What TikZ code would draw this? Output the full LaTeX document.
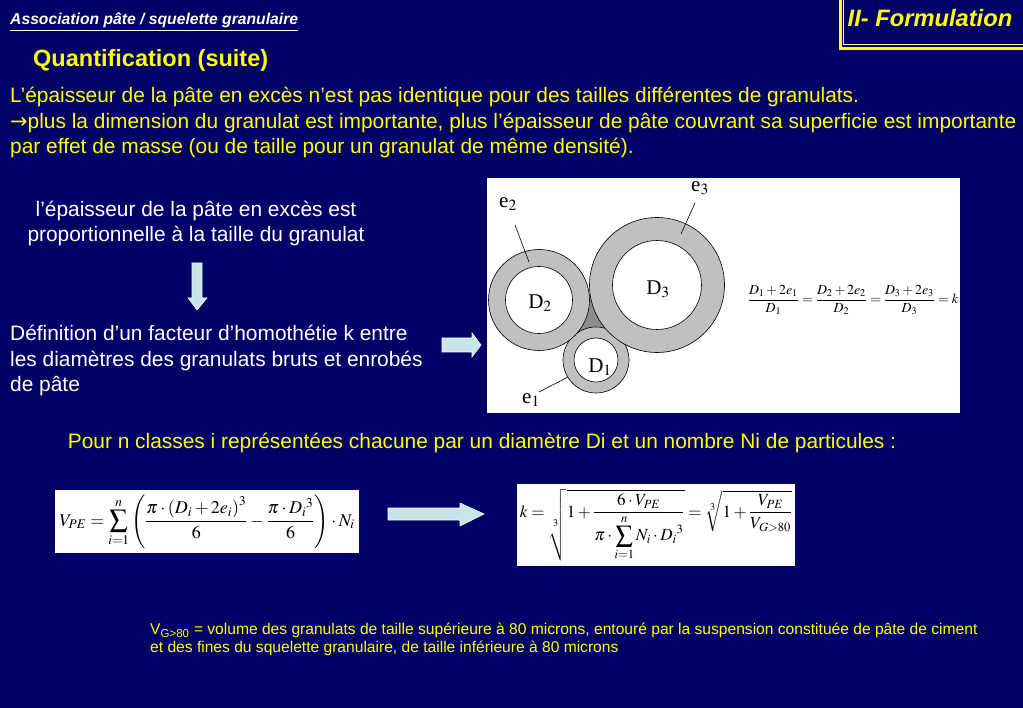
\documentclass[tikz,border=0pt]{standalone}
\usepackage{mathptmx}
\usepackage{fontspec}
\setmainfont{Liberation Serif}
\setsansfont{Liberation Sans}
\newfontfamily\arrowfont{DejaVu Sans}
\usetikzlibrary{calc}
\definecolor{slide}{HTML}{000066}
\definecolor{heading}{HTML}{FFFF00}
\definecolor{ring}{HTML}{C0C0C0}
\definecolor{gap}{HTML}{8C8C8C}
\definecolor{pointer}{HTML}{C8E6EA}
\tikzset{
  frame/.style={draw=heading, line width=3pt},
  framethin/.style={draw=heading!45!white, line width=0.8pt},
  sectiontitle/.style={font=\sffamily\bfseries\itshape\fontsize{23.7}{26}\selectfont, text=heading, inner sep=0pt},
  subject/.style={font=\sffamily\bfseries\itshape\fontsize{15.7}{18}\selectfont, text=white, inner sep=0pt, anchor=west},
  heading/.style={font=\sffamily\bfseries\fontsize{23.5}{26}\selectfont, text=heading, inner sep=0pt, anchor=west},
  bodytext/.style={font=\sffamily\fontsize{20.9}{25.5}\selectfont, text=heading, align=left, inner sep=0pt},
  whitetext/.style={font=\sffamily\fontsize{20.9}{25.5}\selectfont, text=white, inner sep=0pt},
  note/.style={font=\sffamily\fontsize{15.6}{18}\selectfont, text=heading, align=left, inner sep=0pt},
  blockarrow/.style={fill=pointer, draw=white!80!pointer, line width=0.6pt},
  panel/.style={fill=white, draw=none, inner sep=0pt},
  formulabox/.style={fill=white, draw=none, inner sep=0pt},
  grain/.style={circle, draw=black, line width=0.6pt, inner sep=0pt},
  coat/.style={grain, fill=ring},
  core/.style={grain, fill=white},
  size label/.style={font=\rmfamily\fontsize{21}{24}\selectfont, inner sep=0pt},
  leader/.style={draw=black, line width=0.6pt}
}

\begin{document}
\begin{tikzpicture}[x=1pt,y=-1pt]
\path[use as bounding box] (0,0) rectangle (1023,708);
\fill[slide] (0,0) rectangle (1023,708);

% header
\draw[frame] (840,-5) rectangle (1030,48.5);
\draw[framethin] (843.5,-5) rectangle (1030,44.5);
\node[sectiontitle] (section) at (930,18) {II- Formulation};
\node[subject] (subject) at (10,22) {\underline{Association pâte / squelette granulaire}};
\node[heading] (quant) at (33,60) {Quantification (suite)};

\node[bodytext, anchor=north west] (intro) at (10,87)
  {L’épaisseur de la pâte en excès n’est pas identique pour des tailles différentes de granulats.\\
   {\arrowfont →}plus la dimension du granulat est importante, plus l’épaisseur de pâte couvrant sa superficie est importante\\
   par effet de masse (ou de taille pour un granulat de même densité).};

% left column
\node[whitetext, align=center] (claim) at (196,223.5)
  {l’épaisseur de la pâte en excès est\\proportionnelle à la taille du granulat};
\fill[blockarrow] (192,263) -- (202,263) -- (202,298) -- (207,298) -- (197,310) -- (188,298) -- (192,298) -- cycle;
\node[whitetext, align=left, anchor=north west] (homothety) at (10,325)
  {Définition d’un facteur d’homothétie k entre\\les diamètres des granulats bruts et enrobés\\de pâte};
\fill[blockarrow] (442,338) -- (472,338) -- (472,333) -- (481,345) -- (472,357) -- (472,352) -- (442,352) -- cycle;

% grains with paste coating
\node[panel, minimum width=473, minimum height=235] (sketch) at (723.5,295.5) {};
\coordinate (c1) at (596,360);
\coordinate (c2) at (539,300);
\coordinate (c3) at (657,285);
\fill[gap] (c1) -- (c2) -- (c3) -- cycle;
\foreach \n/\ro/\ri in {1/33/22, 2/50.5/33.5, 3/67.5/44.5}{
  \node[coat, minimum size=2*\ro] (g\n) at (c\n) {};
  \node[core, minimum size=2*\ri] (d\n) at (c\n) {};
}
\node[size label] (D1) at ($(c1)+(4,7)$) {D$_1$};
\node[size label] (D2) at ($(c2)+(1,3)$) {D$_2$};
\node[size label] (D3) at ($(c3)+(1,4)$) {D$_3$};

\node[size label] (e1) at (531,400) {e$_1$};
\node[size label] (e2) at (508,204) {e$_2$};
\node[size label] (e3) at (700,188) {e$_3$};
\coordinate (e1tip) at (568,377);
\coordinate (e2tip) at (529,262);
\coordinate (e3tip) at (681,234);
\draw[leader] (e1) ++(8,-8) -- (e1tip);
\draw[leader] (e2) ++(7,21) -- (e2tip);
\draw[leader] (e3) ++(-5,15) -- (e3tip);

\node[inner sep=0pt, font=\fontsize{13.8}{16}\selectfont] (ratio) at (853,300)
  {$\displaystyle \frac{D_1+2e_1}{D_1}=\frac{D_2+2e_2}{D_2}=\frac{D_3+2e_3}{D_3}=k$};

% classes
\node[bodytext] (classes) at (482,443)
  {Pour n classes i représentées chacune par un diamètre Di et un nombre Ni de particules :};

\node[formulabox, minimum width=304, minimum height=63, font=\fontsize{18}{20}\selectfont] (volume) at (207,521.5)
  {$\displaystyle V_{PE}=\sum_{i=1}^{n}\left(\frac{\pi\cdot\left(D_i+2e_i\right)^3}{6}-\frac{\pi\cdot {D_i}^3}{6}\right)\cdot N_i$};
\fill[blockarrow] (388,508) -- (460,508) -- (460,503) -- (484,514) -- (460,526) -- (460,520) -- (388,520) -- cycle;
\node[formulabox, minimum width=278, minimum height=82, font=\fontsize{17}{19}\selectfont] (factor) at (656,525)
  {$\displaystyle k=\sqrt[3]{1+\frac{6\cdot V_{PE}}{\pi\cdot\displaystyle\sum_{i=1}^{n}N_i\cdot {D_i}^3}}=\sqrt[3]{1+\frac{V_{PE}}{V_{G>80}}}$};

\node[note, anchor=north west] (legend) at (150,623)
  {V\textsubscript{G>80} = volume des granulats de taille supérieure à 80 microns, entouré par la suspension constituée de pâte de ciment\\
   et des fines du squelette granulaire, de taille inférieure à 80 microns};
\end{tikzpicture}
\end{document}
